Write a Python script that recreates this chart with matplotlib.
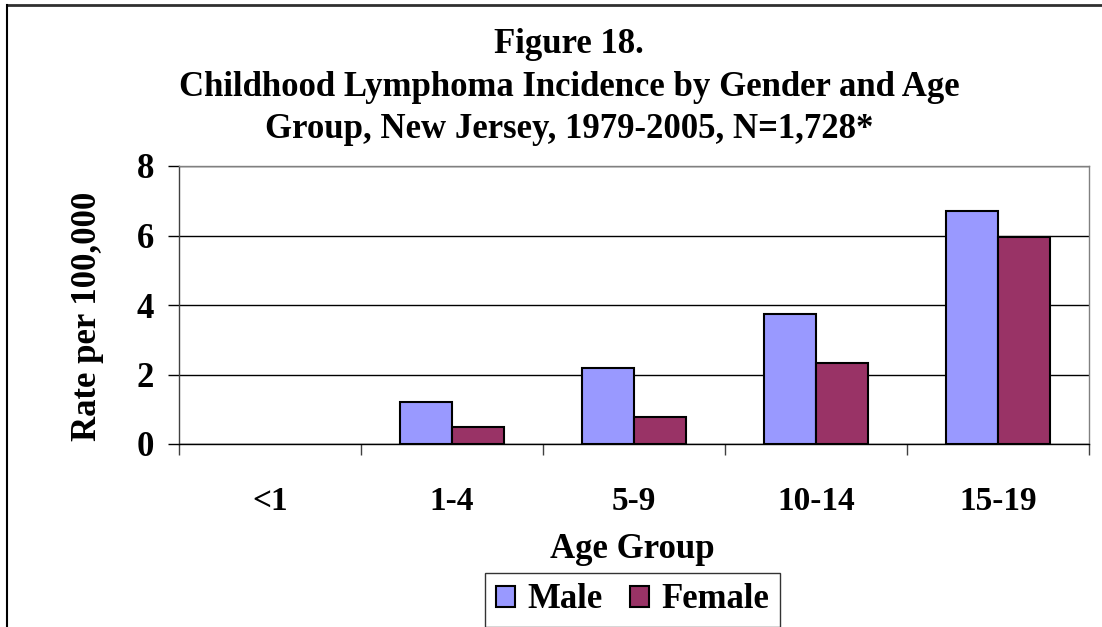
import numpy as np
import matplotlib
matplotlib.use("Agg")
import matplotlib.pyplot as plt
from matplotlib.lines import Line2D
from matplotlib.patches import Patch

# data
age_groups = ["<1", "1-4", "5-9", "10-14", "15-19"]
male = [0.0, 1.21, 2.18, 3.73, 6.71]
female = [0.0, 0.48, 0.79, 2.32, 5.97]

male_color = "#9999FF"
female_color = "#993366"

plt.rcParams["font.family"] = ["Liberation Serif", "DejaVu Serif"]
plt.rcParams["font.weight"] = "bold"

fig = plt.figure(figsize=(11.02, 6.27), dpi=100)
ax = fig.add_axes([179 / 1102, 1 - 444 / 627, (1089 - 179) / 1102, (444 - 166) / 627])

x = np.arange(len(age_groups))
w = 0.286
# no outline for empty bars (the <1 group has no cases)
lw_m = [1.5 if v > 0 else 0 for v in male]
lw_f = [1.5 if v > 0 else 0 for v in female]
ax.bar(x - w / 2, male, w, color=male_color, edgecolor="black", linewidth=lw_m, zorder=3)
ax.bar(x + w / 2, female, w, color=female_color, edgecolor="black", linewidth=lw_f, zorder=3)

ax.set_xlim(-0.5, len(age_groups) - 0.5)
ax.set_ylim(0, 8)
ax.set_yticks([0, 2, 4, 6, 8])
ax.yaxis.grid(True, color="black", linewidth=1)
ax.set_axisbelow(True)

# category labels at centres, tick marks between categories
ax.set_xticks(x)
ax.set_xticklabels(age_groups)
ax.set_xticks(np.arange(-0.5, len(age_groups)), minor=True)
ax.tick_params(axis="x", which="major", length=0, pad=30, labelsize=24)
ax.tick_params(axis="x", which="minor", length=8, width=1, color="#404040")
ax.tick_params(axis="y", length=8, width=1, pad=10, labelsize=25)

for side in ["top", "right"]:
    ax.spines[side].set_color("#808080")
ax.spines["left"].set_color("#404040")
ax.spines["bottom"].set_color("black")
for s in ax.spines.values():
    s.set_linewidth(1)

fig.text(88 / 1102, 1 - 316 / 627, "Rate per 100,000", rotation=90,
         ha="center", va="center", fontsize=25, fontweight="bold")
fig.text(632 / 1102, 1 - 550 / 627, "Age Group", ha="center", va="center",
         fontsize=25, fontweight="bold")

title = ("Figure 18.\nChildhood Lymphoma Incidence by Gender and Age\n"
         "Group, New Jersey, 1979-2005, N=1,728*")
fig.text(569 / 1102, 1 - 87 / 627, title, ha="center", va="center",
         fontsize=25, fontweight="bold", linespacing=1.38)

handles = [Patch(facecolor=male_color, edgecolor="black", linewidth=1.5, label="Male"),
           Patch(facecolor=female_color, edgecolor="black", linewidth=1.5, label="Female")]
leg = fig.legend(handles=handles, loc="upper center", bbox_to_anchor=(632.5 / 1102, 1 - 573 / 627),
                 ncol=2, fontsize=25, frameon=True, fancybox=False,
                 handlelength=0.55, handleheight=0.55, handletextpad=0.35,
                 columnspacing=0.8, borderpad=0.3, borderaxespad=0)
leg.get_frame().set_edgecolor("black")
leg.get_frame().set_linewidth(1)

# outer frame of the original picture (top and left edges)
fig.add_artist(Line2D([7 / 1102, 1], [1 - 5 / 627, 1 - 5 / 627], transform=fig.transFigure,
                      color="#303030", linewidth=2))
fig.add_artist(Line2D([7 / 1102, 7 / 1102], [0, 1 - 5 / 627], transform=fig.transFigure,
                      color="black", linewidth=1.5))

fig.savefig("out.png", dpi=100)
